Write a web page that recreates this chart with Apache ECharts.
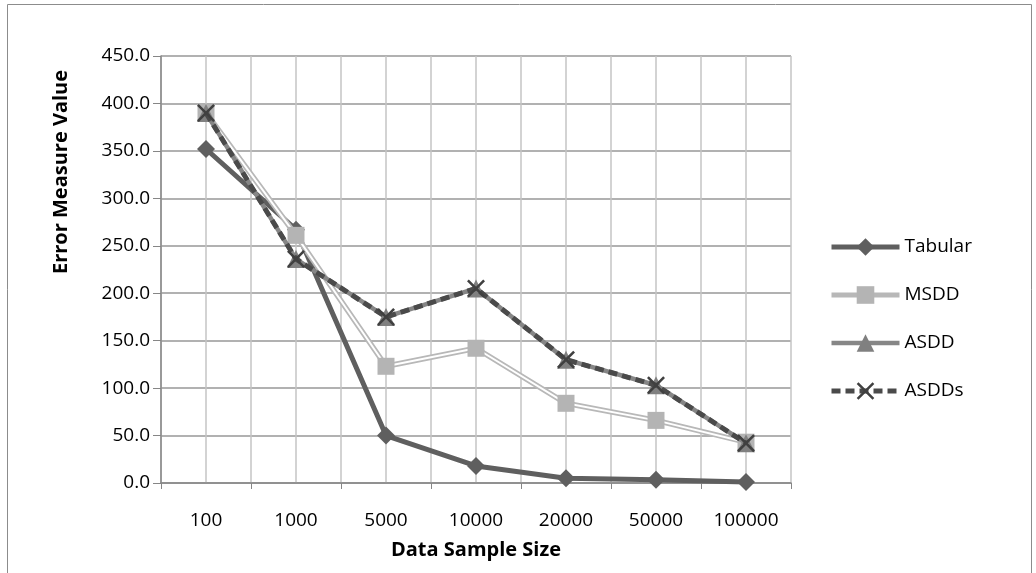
<!DOCTYPE html>
<html>
<head>
  <meta charset="utf-8" />
  <title>Error Measure Value</title>
  <style>
    html, body { margin: 0; padding: 0; background: #fff; }
    #chartBox { width: 1036px; height: 573px; }
  </style>
</head>
<body>
  <div id="chartBox"></div>
  <script src="https://cdn.jsdelivr.net/npm/echarts@6/dist/echarts.min.js"></script>
  <script>
    // data
    var sampleSizes = ['100', '1000', '5000', '10000', '20000', '50000', '100000'];
    var tabular = [352, 267, 50, 18, 5, 3.5, 1];
    var msdd    = [390, 261, 123, 142, 84, 66, 43];
    var asdd    = [390, 236, 175, 205, 130, 103, 42];
    var asdds   = [390, 236, 175, 205, 130, 103, 42];

    var _font = 'Open Sans';
    var _fontSize = 19;
    // filled X used for ASDDs markers
    var crossPath = 'path://M0,1L1,0L5,4L9,0L10,1L6,5L10,9L9,10L5,6L1,10L0,9L4,5Z';

    var myChart = echarts.init(document.getElementById('chartBox'));
    var option = {
      animation: false,
      textStyle: { fontFamily: _font },
      graphic: [
        {
          type: 'rect',
          shape: { x: 7.5, y: 4.5, width: 1024, height: 620 },
          style: { fill: 'none', stroke: '#8c8c8c', lineWidth: 1 },
          z: -1
        },
        {
          type: 'text',
          x: 61,
          y: 172,
          rotation: Math.PI / 2,
          style: {
            text: 'Error Measure Value',
            fontFamily: _font,
            fontSize: 20,
            fontWeight: 'bold',
            fill: '#000',
            align: 'center',
            verticalAlign: 'middle'
          }
        }
      ],
      grid: { left: 161, right: 245, top: 56, bottom: 90 },
      legend: {
        orient: 'vertical',
        left: 824,
        top: 231,
        itemWidth: 68,
        itemHeight: 22,
        itemGap: 26,
        textStyle: { fontFamily: _font, fontSize: _fontSize, color: '#000', lineHeight: 22 },
        data: [
          { name: 'Tabular', lineStyle: { color: '#5f5f5f', width: 5 } },
          { name: 'MSDD', lineStyle: { color: '#b8b8b8', width: 5 } },
          { name: 'ASDD', lineStyle: { color: '#868686', width: 4.5 } },
          { name: 'ASDDs', lineStyle: { color: '#4a4a4a', width: 5, type: [9, 5] } }
        ]
      },
      xAxis: [
        {
          type: 'category',
          data: sampleSizes,
          boundaryGap: true,
          name: 'Data Sample Size',
          nameLocation: 'middle',
          nameGap: 57,
          nameTextStyle: { fontFamily: _font, fontSize: 20, fontWeight: 'bold', color: '#000' },
          axisLine: { lineStyle: { color: '#868686', width: 1.5 } },
          axisTick: { show: true, length: 6, lineStyle: { color: '#868686' } },
          axisLabel: { fontFamily: _font, fontSize: _fontSize, color: '#000', margin: 28 },
          splitLine: { show: false }
        },
        {
          // vertical gridlines at every half category
          type: 'value',
          min: 0,
          max: 7,
          interval: 0.5,
          axisLine: { show: false },
          axisTick: { show: false },
          axisLabel: { show: false },
          splitLine: { show: true, lineStyle: { color: '#c4c4c4', width: 1.5 } }
        }
      ],
      yAxis: {
        type: 'value',
        min: 0,
        max: 450,
        interval: 50,
        axisLine: { show: true, lineStyle: { color: '#868686', width: 1.5 } },
        axisTick: { show: true, length: 8, lineStyle: { color: '#868686' } },
        axisLabel: {
          fontFamily: _font, fontSize: _fontSize, color: '#000', margin: 11,
          formatter: function (v) { return v.toFixed(1); }
        },
        splitLine: { lineStyle: { color: '#979797', width: 1.5 } }
      },
      series: [
        {
          name: 'Tabular',
          type: 'line',
          data: tabular,
          z: 2,
          symbol: 'diamond',
          symbolSize: 18,
          lineStyle: { color: '#5f5f5f', width: 5 },
          itemStyle: { color: '#5f5f5f' }
        },
        {
          name: 'MSDD',
          type: 'line',
          data: msdd,
          z: 4,
          symbol: 'rect',
          symbolSize: 17,
          lineStyle: { color: '#ffffff', width: 2 },
          itemStyle: { color: '#b4b4b4' }
        },
        {
          // outline of the MSDD double line
          name: 'MSDD',
          type: 'line',
          data: msdd,
          z: 3,
          symbol: 'none',
          lineStyle: { color: '#b8b8b8', width: 5.5 }
        },
        {
          name: 'ASDD',
          type: 'line',
          data: asdd,
          z: 5,
          symbol: 'triangle',
          symbolSize: 18,
          lineStyle: { color: '#868686', width: 4.5 },
          itemStyle: { color: '#808080' }
        },
        {
          name: 'ASDDs',
          type: 'line',
          data: asdds,
          z: 6,
          symbol: crossPath,
          symbolSize: 18,
          lineStyle: { color: '#4a4a4a', width: 5, type: [9, 5] },
          itemStyle: { color: '#404040' }
        }
      ]
    };
    myChart.setOption(option);
  </script>
</body>
</html>
